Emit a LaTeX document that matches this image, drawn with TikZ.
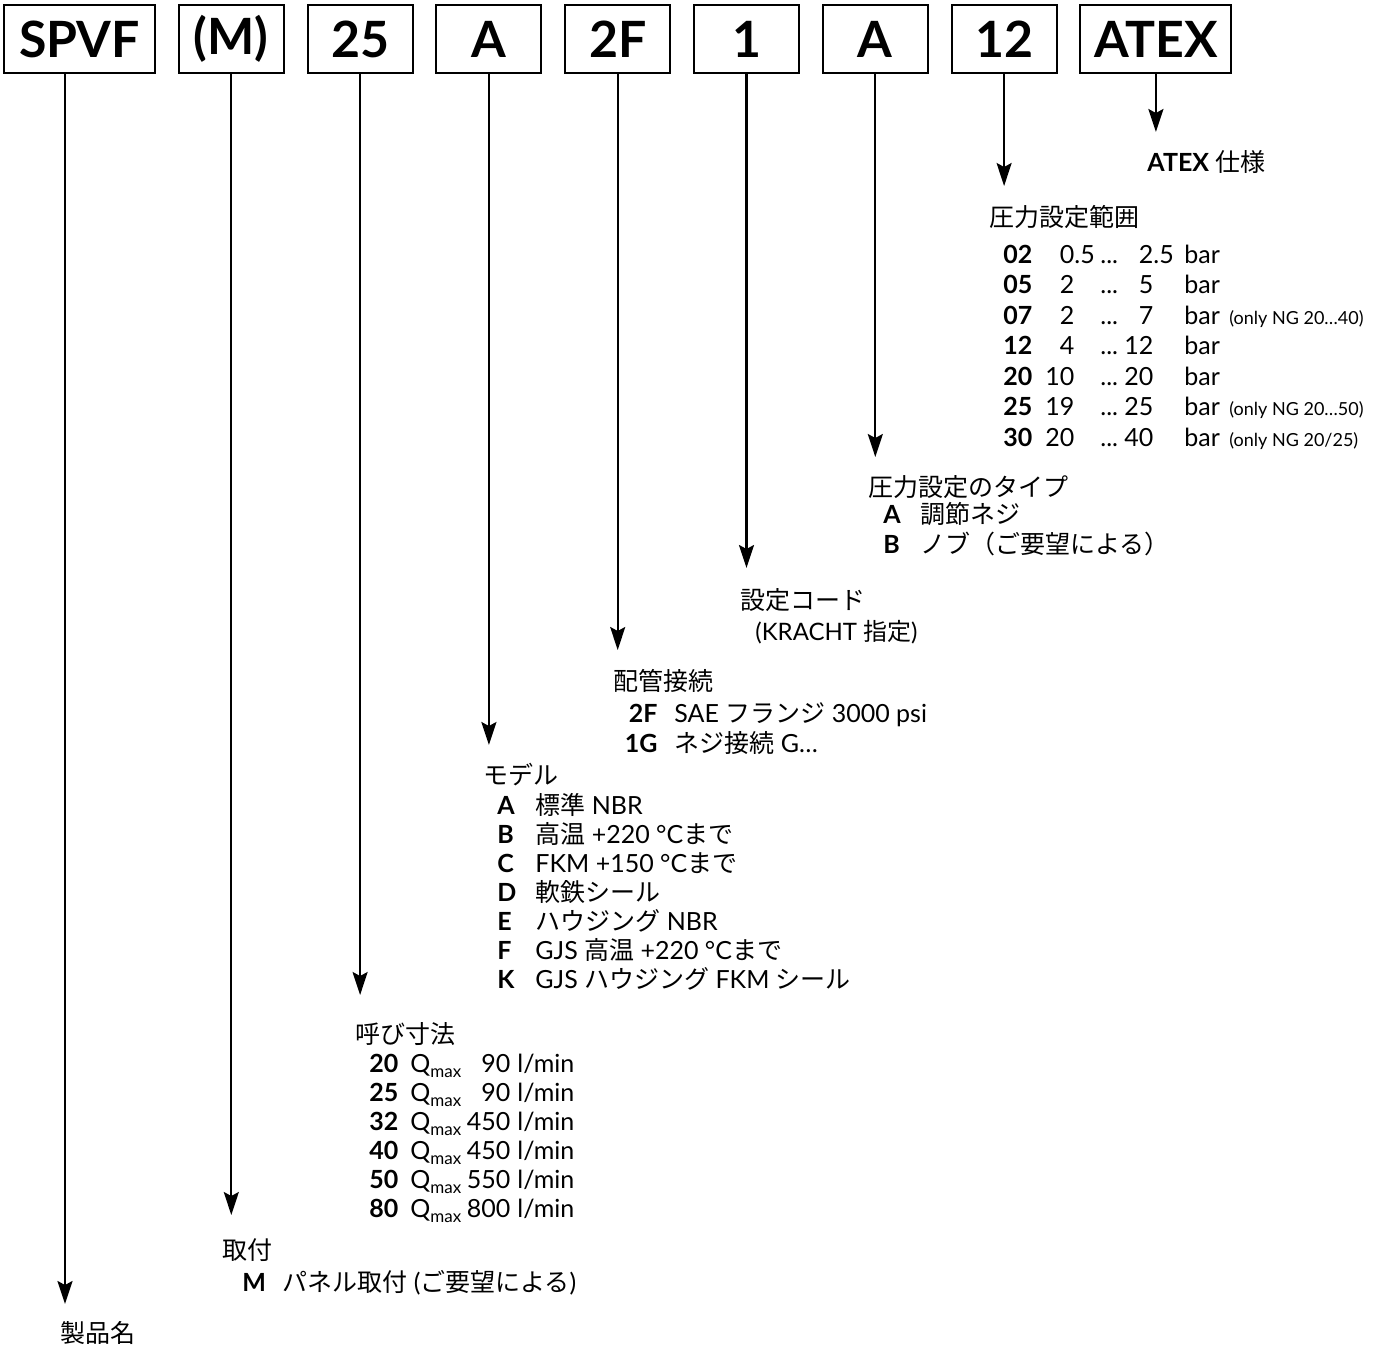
\documentclass[tikz,border=0pt]{standalone}
\usepackage{fontspec}
\setmainfont{Lato}
\newfontfamily\jpfont{Noto Sans CJK JP}
\usetikzlibrary{arrows.meta,positioning}

\newcommand{\ja}[1]{{\jpfont #1}}
\newcommand{\qmax}{Q\raisebox{-0.4ex}{\fontsize{8.5}{9}\selectfont max}}
\newcommand{\rangerow}[4]{\rlap{\bfseries #1}\makebox[35.5pt][r]{#2}\hspace{13pt}\rlap{...}\makebox[26.5pt][r]{#3}\hspace{15.5pt}\makebox[22.5pt][l]{bar}{\fontsize{9}{10}\selectfont #4}}
\newcommand{\flowrow}[2]{\rlap{\bfseries #1}\hspace{20.5pt}\rlap{\qmax}\makebox[50pt][r]{#2}\hspace{3.5pt}l/min}

\begin{document}
\begin{tikzpicture}[
  x=0.5pt, y=-0.5pt,
  font=\fontsize{12.5}{15}\selectfont,
  keybox/.style={draw, line width=1pt, minimum width=52.5pt, minimum height=34pt, inner sep=0pt, font=\fontsize{25}{30}\selectfont\bfseries},
  heading/.style={anchor=west, inner sep=0pt, font=\jpfont\fontsize{12.5}{15}\selectfont},
  opt/.style={anchor=base west, inner sep=0pt},
  arr/.style={-{Stealth[length=11.5pt, width=7.5pt, inset=2pt]}, line width=1.1pt}
]
\useasboundingbox (0,0) rectangle (1397,1346);

% type code boxes
\node[keybox, minimum width=75.5pt] (spvf) at (79.5,39) {SPVF};
\node[keybox, right=10.9pt of spvf] (mount) {(M)};
\node[keybox, right=10.9pt of mount] (size) {25};
\node[keybox, right=10.9pt of size] (model) {A};
\node[keybox, right=10.9pt of model] (port) {2F};
\node[keybox, right=10.9pt of port] (setc) {1};
\node[keybox, right=10.9pt of setc] (adj) {A};
\node[keybox, right=10.9pt of adj] (range) {12};
\node[keybox, minimum width=75.5pt, right=10.9pt of range] (atex) {ATEX};

% arrow ends
\coordinate (tspvf) at (65,1304);
\coordinate (tmount) at (0,1215);
\coordinate (tsize) at (0,995);
\coordinate (tmodel) at (0,745);
\coordinate (tport) at (0,650);
\coordinate (tsetc) at (0,568);
\coordinate (tadj) at (0,457);
\coordinate (trange) at (0,186);
\coordinate (tatex) at (0,132);

\draw[arr] (tspvf |- spvf.south) -- (tspvf);
\draw[arr] (mount) -- (mount |- tmount);
\draw[arr] (size) -- (size |- tsize);
\draw[arr] (model) -- (model |- tmodel);
\draw[arr] (port) -- (port |- tport);
\draw[arr] (setc) -- (setc |- tsetc);
\draw[arr] (adj) -- (adj |- tadj);
\draw[arr] (range) -- (range |- trange);
\draw[arr] (atex) -- (atex |- tatex);

% ATEX
\node[opt] (atexl) at (1147,171) {{\bfseries ATEX} \ja{仕様}};

% pressure range
\node[heading] (rangeh) at (989,217) {圧力設定範囲};
\node[opt] (r02) at (1003,263) {\rangerow{02}{0\rlap{.5}}{2\rlap{.5}}{}};
\node[opt] (r05) at (1003,293.5) {\rangerow{05}{2}{5}{}};
\node[opt] (r07) at (1003,324) {\rangerow{07}{2}{7}{(only NG 20…40)}};
\node[opt] (r12) at (1003,354.5) {\rangerow{12}{4}{12}{}};
\node[opt] (r20) at (1003,385) {\rangerow{20}{10}{20}{}};
\node[opt] (r25) at (1003,415.5) {\rangerow{25}{19}{25}{(only NG 20…50)}};
\node[opt] (r30) at (1003,446) {\rangerow{30}{20}{40}{(only NG 20/25)}};

% adjustment type
\node[heading] (adjh) at (868,487) {圧力設定のタイプ};
\node[opt] (adja) at (883,523) {\makebox[18.5pt][l]{\bfseries A}\ja{調節ネジ}};
\node[opt] (adjb) at (883,553) {\makebox[18.5pt][l]{\bfseries B}\ja{ノブ（ご要望による）}};

% setting code
\node[heading] (setch) at (740,600) {設定コード};
\node[opt] (setcl) at (755,640) {\fontsize{12}{14}\selectfont(KRACHT \ja{指定})};

% port connection
\node[heading] (porth) at (613,681) {配管接続};
\node[opt] (port2f) at (624,722) {\makebox[16.5pt][r]{\bfseries 2F}\hspace{8.5pt}SAE \ja{フランジ} 3000 psi};
\node[opt] (port1g) at (624,752) {\makebox[16.5pt][r]{\bfseries 1G}\hspace{8.5pt}\ja{ネジ接続} G…};

% model
\node[heading] (modelh) at (483,775) {モデル};
\node[opt] (ma) at (497,814) {\makebox[19pt][l]{\bfseries A}\ja{標準} NBR};
\node[opt] (mb) at (497,843) {\makebox[19pt][l]{\bfseries B}\ja{高温} +220 °C\ja{まで}};
\node[opt] (mc) at (497,872) {\makebox[19pt][l]{\bfseries C}FKM +150 °C\ja{まで}};
\node[opt] (md) at (497,901) {\makebox[19pt][l]{\bfseries D}\ja{軟鉄シール}};
\node[opt] (me) at (497,930) {\makebox[19pt][l]{\bfseries E}\ja{ハウジング} NBR};
\node[opt] (mf) at (497,959) {\makebox[19pt][l]{\bfseries F}GJS \ja{高温} +220 °C\ja{まで}};
\node[opt] (mk) at (497,988) {\makebox[19pt][l]{\bfseries K}GJS \ja{ハウジング} FKM \ja{シール}};

% nominal size
\node[heading] (sizeh) at (355,1034) {呼び寸法};
\node[opt] (s20) at (369,1072) {\flowrow{20}{90}};
\node[opt] (s25) at (369,1101) {\flowrow{25}{90}};
\node[opt] (s32) at (369,1130) {\flowrow{32}{450}};
\node[opt] (s40) at (369,1159) {\flowrow{40}{450}};
\node[opt] (s50) at (369,1188) {\flowrow{50}{550}};
\node[opt] (s80) at (369,1217) {\flowrow{80}{800}};

% mounting
\node[heading] (mounth) at (222,1250) {取付};
\node[opt] (mountm) at (242,1291) {\makebox[20pt][l]{\bfseries M}\ja{パネル取付} (\ja{ご要望による})};

% product name
\node[heading] (spvfh) at (60,1333) {製品名};
\end{tikzpicture}
\end{document}
